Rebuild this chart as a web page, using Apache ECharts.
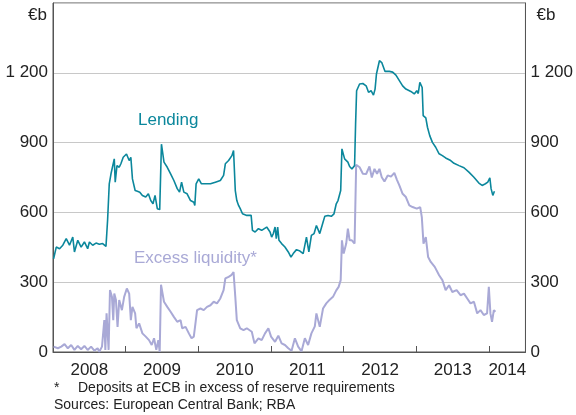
<!DOCTYPE html>
<html>
<head>
<meta charset="utf-8">
<script src="https://cdn.jsdelivr.net/npm/echarts@6/dist/echarts.min.js"></script>
<style>
html,body{margin:0;padding:0;background:#fff;}
#chart{width:576px;height:415px;}
</style>
</head>
<body>
<div id="chart"></div>
<script>
// Decimal-year positions and values (€b)
const lendingX = [2008.008,2008.045,2008.090,2008.135,2008.182,2008.227,2008.272,2008.295,2008.341,2008.387,2008.432,2008.477,2008.501,2008.546,2008.592,2008.637,2008.683,2008.729,2008.751,2008.774,2008.798,2008.819,2008.843,2008.856,2008.880,2008.911,2008.934,2008.966,2009.011,2009.048,2009.071,2009.093,2009.130,2009.161,2009.194,2009.230,2009.276,2009.312,2009.345,2009.376,2009.404,2009.435,2009.468,2009.492,2009.527,2009.572,2009.618,2009.663,2009.709,2009.741,2009.769,2009.800,2009.845,2009.892,2009.937,2009.951,2009.969,2010.005,2010.042,2010.097,2010.166,2010.234,2010.302,2010.347,2010.371,2010.416,2010.461,2010.484,2010.508,2010.529,2010.553,2010.576,2010.607,2010.666,2010.726,2010.744,2010.781,2010.826,2010.871,2010.940,2010.963,2010.986,2011.008,2011.031,2011.055,2011.072,2011.091,2011.109,2011.145,2011.191,2011.237,2011.274,2011.305,2011.350,2011.397,2011.442,2011.487,2011.520,2011.555,2011.592,2011.624,2011.670,2011.715,2011.739,2011.784,2011.829,2011.866,2011.897,2011.921,2011.944,2011.958,2011.975,2012.012,2012.034,2012.057,2012.081,2012.112,2012.149,2012.163,2012.177,2012.218,2012.263,2012.308,2012.341,2012.376,2012.409,2012.431,2012.450,2012.491,2012.523,2012.550,2012.568,2012.628,2012.673,2012.718,2012.741,2012.810,2012.855,2012.923,2012.970,2013.005,2013.025,2013.047,2013.079,2013.093,2013.129,2013.152,2013.183,2013.220,2013.265,2013.312,2013.357,2013.402,2013.471,2013.517,2013.586,2013.654,2013.722,2013.791,2013.859,2013.904,2013.949,2013.982,2014.010,2014.027,2014.051,2014.073];
const lendingY = [401,451,444,459,487,459,494,430,480,451,473,444,473,459,468,463,466,454,566,723,766,773,830,730,801,794,809,837,851,823,837,744,694,691,687,673,666,680,651,637,673,616,612,893,816,794,766,737,702,687,730,687,680,651,644,630,723,744,723,723,723,730,737,759,809,823,844,866,694,651,630,616,594,587,587,523,516,530,523,537,544,516,494,509,537,487,537,480,466,451,430,408,423,440,434,423,494,430,501,509,544,509,558,583,587,583,594,637,651,644,694,873,830,823,816,797,787,801,980,1123,1152,1154,1144,1116,1123,1104,1130,1195,1252,1244,1237,1206,1206,1203,1190,1187,1144,1130,1120,1109,1123,1111,1159,1137,1016,1006,966,930,901,880,852,844,834,823,811,801,792,773,751,726,716,723,730,749,702,673,691];

const excessX = [2008.008,2008.067,2008.114,2008.159,2008.204,2008.250,2008.295,2008.341,2008.387,2008.432,2008.477,2008.524,2008.569,2008.614,2008.637,2008.674,2008.706,2008.720,2008.737,2008.765,2008.784,2008.811,2008.829,2008.843,2008.866,2008.888,2008.911,2008.948,2008.979,2009.016,2009.048,2009.071,2009.093,2009.130,2009.148,2009.185,2009.230,2009.276,2009.321,2009.358,2009.390,2009.421,2009.449,2009.468,2009.486,2009.527,2009.572,2009.618,2009.663,2009.709,2009.755,2009.777,2009.824,2009.869,2009.906,2009.937,2009.960,2009.982,2010.029,2010.074,2010.119,2010.166,2010.211,2010.256,2010.302,2010.347,2010.371,2010.416,2010.453,2010.484,2010.508,2010.529,2010.576,2010.621,2010.666,2010.735,2010.772,2010.826,2010.871,2010.917,2010.963,2011.000,2011.055,2011.100,2011.145,2011.191,2011.237,2011.282,2011.328,2011.373,2011.419,2011.465,2011.510,2011.555,2011.602,2011.624,2011.670,2011.715,2011.760,2011.807,2011.852,2011.897,2011.930,2011.958,2011.975,2011.999,2012.034,2012.057,2012.081,2012.112,2012.149,2012.171,2012.218,2012.239,2012.263,2012.308,2012.354,2012.386,2012.423,2012.458,2012.491,2012.523,2012.560,2012.605,2012.650,2012.696,2012.732,2012.765,2012.810,2012.855,2012.902,2012.947,2013.005,2013.052,2013.074,2013.097,2013.129,2013.161,2013.197,2013.252,2013.312,2013.357,2013.402,2013.449,2013.494,2013.553,2013.607,2013.654,2013.699,2013.744,2013.791,2013.836,2013.881,2013.927,2013.972,2013.996,2014.018,2014.040,2014.065,2014.087];
const excessY = [23,16,23,34,16,30,9,26,12,26,9,23,6,16,1,23,137,9,166,9,266,237,137,251,223,108,223,180,237,273,251,137,194,166,102,123,80,66,51,30,59,9,51,1,289,216,194,173,151,130,137,102,108,80,59,66,123,180,187,180,194,201,216,209,230,266,316,323,330,344,237,137,102,94,102,87,37,59,51,80,102,66,44,70,37,30,16,5,59,23,3,59,30,80,110,166,108,187,209,225,237,265,280,309,480,423,466,530,480,480,466,805,794,787,766,765,798,750,787,766,787,751,733,759,754,770,740,716,680,666,630,623,616,623,580,466,494,408,387,366,330,309,266,287,258,266,244,251,230,209,216,166,180,159,166,280,166,130,180,173];

const yearLabels = ['2008','2009','2010','2011','2012','2013','2014'];
const yTicks = [0, 300, 600, 900, 1200];

const FONT = '"Liberation Sans", Arial, Helvetica, sans-serif';
const xMin = 2008, xMax = 2014.5;

function pairs(xs, ys){ return xs.map((x,i)=>[x, ys[i]]); }

function yearLabelFor(v){
  for (let i = 0; i < yearLabels.length; i++) {
    const start = xMin + i;
    const end = Math.min(start + 1, xMax);
    const mid = (start + end) / 2;
    if (Math.abs(v - mid) < 1e-6) return yearLabels[i];
  }
  return '';
}
function fmtY(v){
  if (yTicks.indexOf(v) < 0) return '';
  return v >= 1000 ? String(v).replace(/(\d)(\d{3})$/, '$1 $2') : String(v);
}

const chart = echarts.init(document.getElementById('chart'), null, {renderer:'canvas'});
const axisColor = '#555555';
const textColor = '#222222';

const yAxisBase = {
  type:'value', min:0, max:1500, interval:300,
  axisLine:{show:true, lineStyle:{color:axisColor, width:1}},
  axisTick:{show:false},
  axisLabel:{color:textColor, fontFamily:FONT, fontSize:17, margin:5, formatter:fmtY},
  name:'€b', nameLocation:'end', nameGap:-12,
};

chart.setOption({
  animation:false,
  grid:{left:53, right:48, top:3, bottom:63, show:true, borderColor:axisColor, borderWidth:1},
  xAxis:[
    {type:'value', min:xMin, max:xMax, interval:1, position:'bottom',
     axisLine:{show:true, onZero:false, lineStyle:{color:axisColor, width:1}},
     axisTick:{show:true, inside:true, length:6, lineStyle:{color:axisColor}},
     axisLabel:{show:false}, splitLine:{show:false}},
    {type:'value', min:xMin, max:xMax, interval:0.25, position:'bottom',
     axisLine:{show:false}, axisTick:{show:false}, splitLine:{show:false},
     axisLabel:{show:true, color:textColor, fontFamily:FONT, fontSize:17, margin:10, formatter:yearLabelFor}}
  ],
  yAxis:[
    Object.assign({}, yAxisBase, {position:'left',
      splitLine:{show:true, lineStyle:{color:'#c8c8c8', width:1}},
      nameTextStyle:{color:textColor, fontFamily:FONT, fontSize:17, align:'right', verticalAlign:'middle', padding:[0,6,0,0]}}),
    Object.assign({}, yAxisBase, {position:'right',
      splitLine:{show:false},
      nameTextStyle:{color:textColor, fontFamily:FONT, fontSize:17, align:'left', verticalAlign:'middle', padding:[0,0,0,11]}})
  ],
  series:[
    {type:'line', name:'Excess liquidity', xAxisIndex:0, yAxisIndex:0, data:pairs(excessX, excessY),
     showSymbol:false, symbol:'none', lineStyle:{color:'#a9a9d6', width:2}, z:2},
    {type:'line', name:'Lending', xAxisIndex:0, yAxisIndex:0, data:pairs(lendingX, lendingY),
     showSymbol:false, symbol:'none', lineStyle:{color:'#0b879c', width:1.6}, z:3}
  ],
  graphic:[
    {type:'text', left:138, top:112, style:{text:'Lending', fill:'#0b879c', font:'17px '+FONT}},
    {type:'text', left:134, top:250, style:{text:'Excess liquidity*', fill:'#a9a9d6', font:'17px '+FONT}},
    {type:'text', left:54, top:381, style:{text:'*', fill:textColor, font:'14px '+FONT}},
    {type:'text', left:78, top:381, style:{text:'Deposits at ECB in excess of reserve requirements', fill:textColor, font:'14px '+FONT}},
    {type:'text', left:54, top:398, style:{text:'Sources: European Central Bank; RBA', fill:textColor, font:'14px '+FONT}}
  ]
});
</script>
</body>
</html>
